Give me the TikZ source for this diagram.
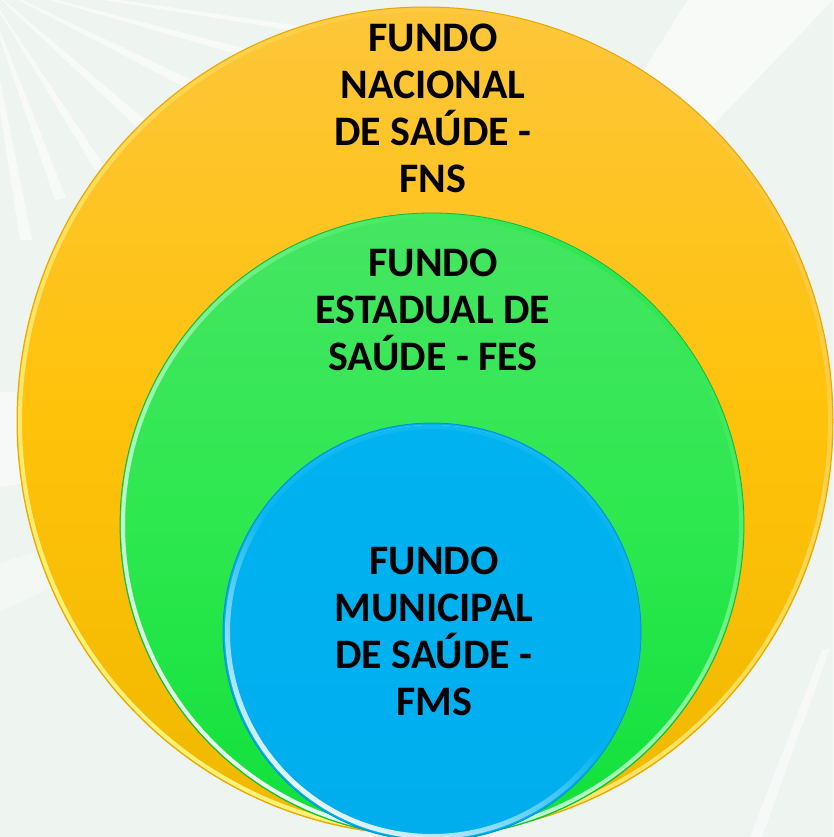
\documentclass[tikz,border=0pt]{standalone}
\usepackage{fontspec}
\setmainfont{Carlito}
\definecolor{bgc}{HTML}{EEF4EF}
\definecolor{yTop}{HTML}{FDC63A}
\definecolor{yMid}{HTML}{FFC20A}
\definecolor{yBot}{HTML}{F0B800}
\definecolor{yEdge}{HTML}{E9A800}
\definecolor{yHi}{HTML}{FFF27A}
\definecolor{gTop}{HTML}{46E562}
\definecolor{gMid}{HTML}{2DE84F}
\definecolor{gBot}{HTML}{10E03A}
\definecolor{gEdge}{HTML}{0FB83A}
\definecolor{gHi}{HTML}{E8FFF0}
\definecolor{bTop}{HTML}{00B2F0}
\definecolor{bBot}{HTML}{00AEEE}
\definecolor{bEdge}{HTML}{0090D8}
\definecolor{bHi}{HTML}{A8F6FF}
\begin{document}
\begin{tikzpicture}[x=1pt,y=-1pt,
  lbl/.style={font=\fontsize{42}{47}\selectfont\bfseries, align=center, text=black, inner sep=0pt, anchor=base},
  ray/.style={fill=white, opacity=0.6}]
\useasboundingbox (0,0) rectangle (833,837);
\fill[bgc] (0,0) rectangle (833,837);
% background rays
\coordinate (sun) at (430,420);
\fill[ray] (sun) -- (650,60) -- (700,-20) -- (833,-20) -- (833,0) -- cycle;
\fill[ray, opacity=0.5] (sun) -- (-20,390) -- (-20,490) -- cycle;
\fill[ray, opacity=0.4] (sun) -- (-20,570) -- (-20,620) -- cycle;
\coordinate (tl) at (-20,-20);
\foreach \ax/\ay/\bx/\by in {20/240/32/240, 55/200/66/198, 95/170/104/166, 140/130/150/124, 190/90/200/84, 240/55/250/50, 290/30/300/26}{
  \fill[ray] (tl) -- (\ax,\ay) -- (\bx,\by) -- cycle;
}
\fill[ray, opacity=0.5] (822,650) -- (830,648) -- (762,837) -- (750,837) -- cycle;

% outer yellow
\coordinate (cy) at (425,421);
\shade[top color=yTop, bottom color=yBot, middle color=yMid] (cy) ellipse [x radius=408, y radius=414];
\shade[even odd rule, top color=yTop, bottom color=yHi, shading angle=-35]
  (cy) ellipse [x radius=407, y radius=413] (cy) ellipse [x radius=403, y radius=409];
\draw[yEdge, line width=1] (cy) ellipse [x radius=408, y radius=414];

% middle green
\coordinate (cg) at (432,525);
\shade[top color=gTop, bottom color=gBot, middle color=gMid] (cg) circle [radius=312];
\shade[even odd rule, top color=gMid, bottom color=gHi, shading angle=-35]
  (cg) circle [radius=311] (cg) circle [radius=307];
\draw[gEdge, line width=0.8] (cg) circle [radius=312];

% inner blue
\coordinate (cb) at (432,632);
\shade[top color=bTop, bottom color=bBot] (cb) circle [radius=209];
\shade[even odd rule, top color=bHi, bottom color=bTop, middle color=bTop]
  (cb) circle [radius=207] (cb) circle [radius=203];
\shade[even odd rule, top color=bTop, bottom color=white, middle color=bTop, shading angle=-35, opacity=0.9]
  (cb) circle [radius=207] (cb) circle [radius=202];
\draw[bEdge, line width=0.8] (cb) circle [radius=209];

% labels
\node[lbl] (fns) at (433,193) {FUNDO\\NACIONAL\\DE SAÚDE -\\FNS};
\node[lbl] (fes) at (433,370) {FUNDO\\ESTADUAL DE\\SAÚDE - FES};
\node[lbl] (fms) at (434,715) {FUNDO\\MUNICIPAL\\DE SAÚDE -\\FMS};
\end{tikzpicture}
\end{document}
